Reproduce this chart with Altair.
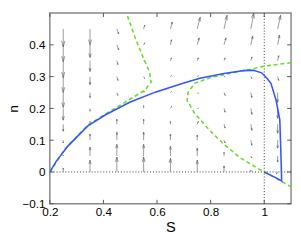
import altair as alt
import pandas as pd

# ---------------- data ----------------
X_DOMAIN = [0.2, 1.1]
Y_DOMAIN = [-0.1, 0.5]
X_TICKS = [0.2, 0.4, 0.6, 0.8, 1.0]
Y_TICKS = [-0.1, 0.0, 0.1, 0.2, 0.3, 0.4]
REF_S = [1.0]
REF_N = [0.0]

# quiver grid
GRID_S = [0.25, 0.35, 0.45, 0.55, 0.65, 0.75, 0.85, 0.95, 1.05]
GRID_N = [0.0, 0.05, 0.10, 0.15, 0.20, 0.25, 0.30, 0.35, 0.40, 0.45]
# arrow components (thousandths of axis units), one row per GRID_N value
DS = [
    [0, 0, 0, 0, 0, 0, 0, 0, -4],
    [0, 0, 0, 0, 0, 0, 0, 4, 0],
    [0, 0, 0, 0, 0, 0, 4, 4, 0],
    [0, 0, 0, 0, 0, 4, 4, 4, 0],
    [0, 0, 0, 0, 4, 4, 4, 4, 0],
    [0, 0, 4, 4, 4, 4, 4, 4, 0],
    [0, 0, 4, 4, 4, 4, 4, 4, 4],
    [0, 0, 4, 4, 4, 4, 4, 4, 4],
    [0, 0, 7, 4, 4, 7, 7, 7, 7],
    [0, 0, 7, 4, 7, 11, 11, 11, 11],
]
DN = [
    [12, 37, 47, 47, 43, 37, 19, 6, -6],
    [3, 28, 37, 37, 31, 25, 12, -6, -19],
    [-9, 19, 25, 25, 19, 16, -9, -16, -25],
    [-22, 9, 16, 16, 9, 9, -12, -19, -28],
    [-37, -9, 0, 9, 6, 0, -12, -19, -31],
    [-47, -16, -9, 3, 3, -3, -9, -16, -31],
    [-50, -25, -12, -6, 3, 3, 0, -6, -12],
    [-53, -34, -12, 0, 9, 9, 9, 12, 16],
    [-53, -40, -16, 6, 16, 22, 22, 28, 31],
    [-56, -50, -16, 12, 22, 37, 43, 50, 43],
]

# trajectory (blue)
TRAJ_S = [0.2, 0.225, 0.269, 0.342, 0.408, 0.5, 0.596, 0.7, 0.76, 0.85, 0.924,
          0.96, 0.99, 1.01, 1.025, 1.044, 1.058, 1.062, 1.065, 1.04, 1.0]
TRAJ_N = [0.0, 0.035, 0.083, 0.145, 0.18, 0.22, 0.252, 0.28, 0.295, 0.31, 0.319,
          0.32, 0.312, 0.295, 0.279, 0.226, 0.164, 0.062, -0.028, -0.017, 0.0]

# nullclines (green dashed)
NC1_S = [0.2, 0.258, 0.342, 0.396, 0.433, 0.493, 0.554, 0.578, 0.572, 0.548, 0.518, 0.484]
NC1_N = [0.0, 0.074, 0.148, 0.176, 0.195, 0.226, 0.257, 0.283, 0.314, 0.361, 0.423, 0.505]
NC2_S = [1.1, 1.0, 0.96, 0.9, 0.8, 0.74, 0.716, 0.712, 0.74, 0.794, 0.849, 0.91, 0.98, 1.03, 1.1]
NC2_N = [0.344, 0.333, 0.325, 0.315, 0.297, 0.279, 0.25, 0.226, 0.185, 0.133, 0.087, 0.045, 0.009, -0.013, -0.047]

# ---------------- tables ----------------
W, H = 248, 196
FONT = "Liberation Sans"
ARROW = "#555555"

shafts, heads = [], []
alpha, beta = 0.33, 0.33
for i, n in enumerate(GRID_N):
    for j, s in enumerate(GRID_S):
        u = DS[i][j] / 1000.0
        v = DN[i][j] / 1000.0
        tx, ty = s + u, n + v
        shafts.append({"S": s, "n": n, "S2": tx, "n2": ty})
        heads.append({"S": tx, "n": ty,
                      "S2": tx - alpha * (u + beta * v),
                      "n2": ty - alpha * (v - beta * u)})
        heads.append({"S": tx, "n": ty,
                      "S2": tx - alpha * (u - beta * v),
                      "n2": ty - alpha * (v + beta * u)})
arrows = pd.DataFrame(shafts + heads)

traj = pd.DataFrame({"S": TRAJ_S, "n": TRAJ_N, "o": range(len(TRAJ_S))})
nc = pd.concat([
    pd.DataFrame({"S": NC1_S, "n": NC1_N, "o": range(len(NC1_S)), "k": "a"}),
    pd.DataFrame({"S": NC2_S, "n": NC2_N, "o": range(len(NC2_S)), "k": "b"}),
])

xs = alt.Scale(domain=X_DOMAIN, nice=False, zero=False)
ys = alt.Scale(domain=Y_DOMAIN, nice=False, zero=False)

x_axis = alt.Axis(values=X_TICKS, format=".1~f", tickSize=0, domain=False, grid=False,
                  labelFlush=False, labelOverlap=False,
                  labelFont=FONT, labelFontSize=12, labelColor="black", labelPadding=3,
                  titleFont=FONT, titleFontSize=15, titleFontWeight="normal",
                  titleColor="black", titlePadding=3)
y_axis = alt.Axis(values=Y_TICKS, format=".1~f", tickSize=0, domain=False, grid=False,
                  labelFlush=False, labelOverlap=False,
                  labelFont=FONT, labelFontSize=12, labelColor="black", labelPadding=5,
                  titleFont=FONT, titleFontSize=14, titleFontWeight="normal",
                  titleColor="black", titlePadding=2)


def X(field="S"):
    return alt.X(f"{field}:Q", scale=xs, axis=x_axis, title="S")


def Y(field="n"):
    return alt.Y(f"{field}:Q", scale=ys, axis=y_axis, title="n")


ref_h = alt.Chart(pd.DataFrame({"n": REF_N})).mark_rule(
    color="black", strokeWidth=0.8, strokeDash=[1, 2]).encode(y=Y())
ref_v = alt.Chart(pd.DataFrame({"S": REF_S})).mark_rule(
    color="black", strokeWidth=0.8, strokeDash=[1, 2]).encode(x=X())

quiver = alt.Chart(arrows).mark_rule(color=ARROW, strokeWidth=0.6, clip=True).encode(
    x=X(), y=Y(), x2="S2:Q", y2="n2:Q")

green = alt.Chart(nc).mark_line(color="#66dd22", strokeWidth=1.6, strokeDash=[4, 3],
                                clip=True).encode(
    x=X(), y=Y(), detail="k:N", order="o:Q")

blue = alt.Chart(traj).mark_line(color="#3355ff", strokeWidth=1.6, clip=True).encode(
    x=X(), y=Y(), order="o:Q")

tick_style = dict(color="#555555", strokeWidth=1)
xt_bot = alt.Chart(pd.DataFrame({"S": X_TICKS})).mark_rule(**tick_style).encode(
    x=X(), y=alt.value(H), y2=alt.value(H - 4))
xt_top = alt.Chart(pd.DataFrame({"S": X_TICKS})).mark_rule(**tick_style).encode(
    x=X(), y=alt.value(0), y2=alt.value(4))
yt_left = alt.Chart(pd.DataFrame({"n": Y_TICKS})).mark_rule(**tick_style).encode(
    y=Y(), x=alt.value(0), x2=alt.value(4))
yt_right = alt.Chart(pd.DataFrame({"n": Y_TICKS})).mark_rule(**tick_style).encode(
    y=Y(), x=alt.value(W), x2=alt.value(W - 4))

chart = alt.layer(ref_h, ref_v, quiver, green, blue, xt_bot, xt_top, yt_left, yt_right).properties(
    width=W, height=H,
    autosize=alt.AutoSizeParams(type="none"),
    padding={"left": 43, "top": 2, "right": 2, "bottom": 32},
    background="white",
).configure_view(stroke="#888888", strokeWidth=1.5)

chart.save("out.html", embed_options={"renderer": "svg", "actions": False})
